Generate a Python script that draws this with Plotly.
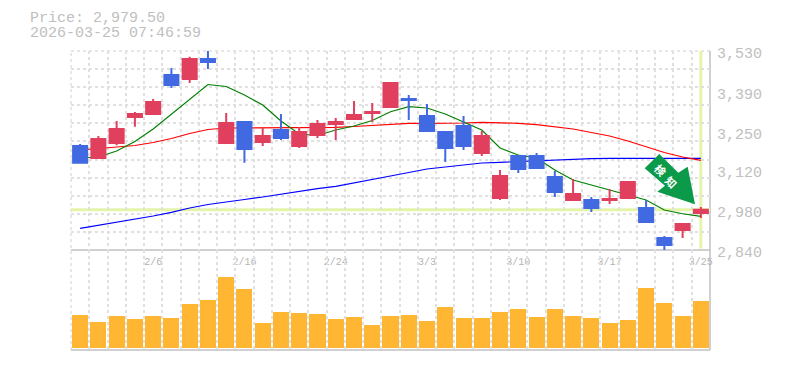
import plotly.graph_objects as go

PRICE_LABEL = "Price: 2,979.50"
STAMP_LABEL = "2026-03-25 07:46:59"
LAST_PRICE = 2979.5

dates = ["2/2","2/3","2/4","2/5","2/6","2/9","2/10","2/12","2/13","2/16","2/17","2/18","2/19","2/20","2/24",
         "2/25","2/26","2/27","3/2","3/3","3/4","3/5","3/6","3/9","3/10","3/11","3/12","3/13","3/16","3/17",
         "3/18","3/19","3/23","3/24","3/25"]
open_ = [3200.6,3159,3211,3301,3311.5,3446.8,3432.9,3502.2,3211,3283.8,3214.4,3256,3200.6,3238.7,3276.9,
         3294,3315,3335.8,3363.5,3304.6,3249,3270,3176.3,3020.3,3165.9,3165.9,3093,3013.3,3013.3,3013.3,
         3020.3,2985.6,2881.6,2909.3,2968.3]
high = [3207.5,3235.2,3287.3,3318.5,3363.5,3471,3510,3533,3315,3287.3,3263,3311.5,3266.5,3290.7,3297.7,
        3356.6,3349.7,3422.5,3377.4,3346.2,3249,3304.6,3252.6,3117.4,3165.9,3176.3,3114,3086,3023.8,3051.5,
        3075.7,3013.3,2888.5,2933.6,2989]
low = [3142.7,3155.5,3203,3267.5,3311.5,3402,3419,3467.6,3211,3142.7,3200.6,3221.4,3193.6,3228.3,3221.4,
       3294,3283.8,3332.3,3290.7,3252.6,3145,3186.7,3165.9,3013.3,3106.9,3124.3,3023.8,3013.3,2971.7,2999.5,
       3020.3,2937,2840,2881.6,2951]
close = [3142.7,3224.8,3259.5,3311.5,3353,3412,3502.2,3491.8,3280.3,3190,3235.2,3228.3,3249,3276.9,3283.8,
         3308,3318.5,3419,3360,3252.6,3193.6,3200.6,3235.2,3096.6,3120.8,3124.3,3041,3034,2985.6,3016.8,
         3075.7,2937,2857.3,2930,2979.5]
ma_short = [3159,3162.4,3183.2,3216.2,3259.5,3311.5,3363.5,3413.8,3406.9,3377.4,3342.7,3287.3,3242.2,3237,3256,
            3269.9,3289,3319.5,3336.8,3332.3,3311.5,3284.8,3256,3193.6,3169.4,3159,3117.4,3082.7,3065.3,3048,
            3030.7,3013.3,2978.7,2965.8,2956.8]
ma_mid = [3186.7,3191.9,3197,3202.3,3212.7,3226.6,3243.9,3257.8,3263,3263,3264.7,3265.4,3265.4,3264,3265.4,
          3268.2,3271.7,3276.9,3279.3,3279.3,3279.3,3280.3,3282.8,3281.4,3279.3,3274.4,3268.2,3259.5,3247.4,3235.2,
          3217.9,3198.8,3178,3162.4,3150.9]
ma_long = [2915,2925.3,2937,2948.4,2957.9,2970.7,2985.6,2997.7,3007.5,3015,3023.7,3034.1,3043.9,3052.5,3060.8,
           3072.3,3082.7,3096.5,3108.7,3120.8,3127.8,3134.7,3141.6,3144,3146.8,3149.6,3152,3155.5,3156.9,3157.9,
           3157.9,3157.9,3157.9,3157.9,3157.9]
volume = [33,26,32,29,32,30,44,48,71,59,25,36,35,34,29,31,23,32,33,27,41,30,30,36,39,31,39,32,30,25,28,60,45,32,47]
price_ticks = [3530,3390,3250,3120,2980,2840]
price_labels = ["3,530","3,390","3,250","3,120","2,980","2,840"]
date_ticks = ["2/6","2/16","2/24","3/3","3/10","3/17","3/25"]

GREY = "#c0c0c0"
GRID = "#e0e0e0"
DASH = "3px,3px"
MONO = "Liberation Mono, monospace"
W, H, L, R, T, B = 785, 370, 71, 75, 51, 20
PW, PH = W - L - R, H - T - B
idx = list(range(len(dates)))
date_pos = [dates.index(d) for d in date_ticks]


def fx(px):
    return (px - L) / PW


def fy(py):
    return (H - B - py) / PH


fig = go.Figure()
for vals, col in [(ma_long, "#0000ff"), (ma_mid, "#ff0000"), (ma_short, "#008000")]:
    fig.add_trace(go.Scatter(x=idx, y=vals, mode="lines", line=dict(color=col, width=1.2), zorder=1,
                             xaxis="x", yaxis="y", showlegend=False, hoverinfo="skip"))
fig.add_trace(go.Candlestick(
    x=idx, open=open_, high=high, low=low, close=close, xaxis="x", yaxis="y", zorder=2, whiskerwidth=0,
    increasing=dict(line=dict(color="#e0405e", width=2), fillcolor="#e0405e"),
    decreasing=dict(line=dict(color="#4169e1", width=2), fillcolor="#4169e1"),
    showlegend=False))
fig.add_trace(go.Bar(x=idx, y=volume, width=0.88, marker=dict(color="#ffb733", line_width=0),
                     xaxis="x2", yaxis="y2", showlegend=False))

minor_x = dict(tickmode="linear", tick0=-0.5, dtick=1, showgrid=True, gridcolor=GRID, griddash=DASH,
               gridwidth=1.5, ticks="")
grey_line = dict(color=GREY, width=1.5)
grid_line = dict(color=GRID, width=1.5, dash=DASH)
fig.update_layout(
    template="none",
    width=W, height=H, margin=dict(l=L, r=R, t=T, b=B), paper_bgcolor="white", plot_bgcolor="white",
    boxgap=0.23, boxgroupgap=0, showlegend=False, bargap=0,
    font=dict(family=MONO, color=GREY),
    xaxis=dict(domain=[0, 1], range=[-0.5, 34.5], anchor="y", tickmode="array", tickvals=date_pos,
               ticktext=date_ticks, showgrid=False, zeroline=False, minor=minor_x, ticks="",
               rangeslider=dict(visible=False), automargin=False,
               tickfont=dict(family=MONO, size=10, color="#b4b4b4"), ticklabelstandoff=4),
    xaxis2=dict(domain=[0, 1], range=[-0.5, 34.5], anchor="y2", showticklabels=False, showgrid=False,
                zeroline=False, minor=minor_x, ticks="", automargin=False),
    yaxis=dict(domain=[100 / PH, 1], range=[2840, 3530], side="right", anchor="x", tickmode="array",
               tickvals=price_ticks, ticktext=price_labels, showgrid=False, zeroline=False, ticks="",
               automargin=False,
               tickfont=dict(family=MONO, size=15, color=GREY), ticklabelstandoff=6, ticklabelshift=2,
               minor=dict(tickmode="linear", tick0=2840, dtick=690 / 11, showgrid=True, gridcolor=GRID,
                          griddash=DASH, gridwidth=1.5, ticks="")),
    yaxis2=dict(domain=[0, 100 / PH], range=[-2, 98], side="right", anchor="x2", showticklabels=False,
                showgrid=False, zeroline=False, ticks="", automargin=False),
    shapes=[
        dict(type="line", xref="paper", yref="paper", x0=0, x1=1, y0=1, y1=1, line=grid_line, layer="below"),
        dict(type="line", xref="paper", yref="paper", x0=0, x1=0, y0=0, y1=1, line=grid_line, layer="below"),
        dict(type="line", xref="paper", yref="paper", x0=1, x1=1, y0=0, y1=1, line=grey_line, layer="below"),
        dict(type="line", xref="paper", yref="paper", x0=0, x1=1, y0=0, y1=0, line=grey_line, layer="below"),
        dict(type="line", xref="paper", yref="paper", x0=0, x1=1, y0=100 / PH, y1=100 / PH, line=grey_line,
             layer="below"),
        dict(type="line", xref="x", yref="y", x0=-0.5, x1=34.5, y0=LAST_PRICE, y1=LAST_PRICE,
             line=dict(color="#e4f4a8", width=3), layer="below"),
        dict(type="line", xref="x", yref="y", x0=idx[-1], x1=idx[-1], y0=2845, y1=3530,
             line=dict(color="#e4f4a8", width=3), layer="below"),
        dict(type="path", xref="paper", yref="paper", fillcolor="#0a9a4a", line=dict(width=0), layer="above",
             path="M {} {} L {} {} L {} {} L {} {} L {} {} L {} {} L {} {} Z".format(
                 fx(659.3), fy(154), fx(644.7), fy(168.3), fx(665), fy(185.7), fx(657.3), fy(191.7),
                 fx(695), fy(204.3), fx(687.7), fy(166.7), fx(678.3), fy(172.7))),
    ],
    annotations=[
        dict(text=PRICE_LABEL, xref="paper", yref="paper", x=fx(28), y=fy(18), xanchor="left", yanchor="middle",
             showarrow=False, font=dict(family=MONO, size=15, color=GREY)),
        dict(text=STAMP_LABEL, xref="paper", yref="paper", x=fx(28), y=fy(33), xanchor="left", yanchor="middle",
             showarrow=False, font=dict(family=MONO, size=15, color=GREY)),
        dict(text="<b>検</b>", xref="paper", yref="paper", x=fx(660.7), y=fy(170), xanchor="center",
             yanchor="middle", textangle=45, showarrow=False,
             font=dict(family="Noto Sans CJK JP", size=11, color="white")),
        dict(text="<b>知</b>", xref="paper", yref="paper", x=fx(671.7), y=fy(181.7), xanchor="center",
             yanchor="middle", textangle=45, showarrow=False,
             font=dict(family="Noto Sans CJK JP", size=11, color="white")),
    ],
)
fig.write_html("out.html", config=dict(displayModeBar=False),
               post_script="document.body.style.margin='0';document.body.style.overflow='hidden';")
